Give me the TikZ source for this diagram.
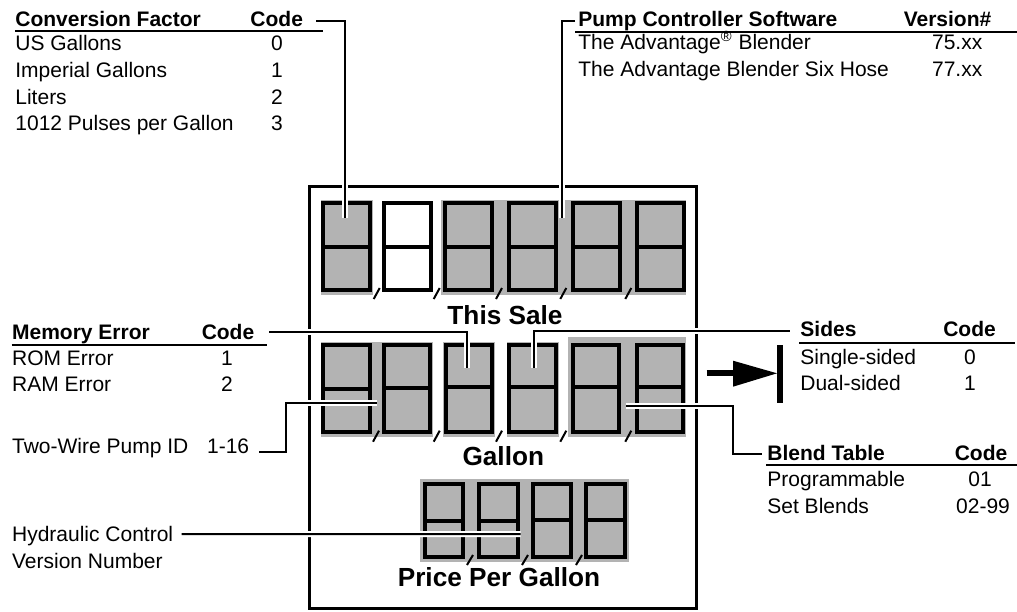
\documentclass[tikz,border=0pt]{standalone}
\usepackage{fontspec}
\setmainfont{Liberation Sans}
\usetikzlibrary{positioning}

\definecolor{lcdgray}{RGB}{179,179,179}

\begin{document}
\begin{tikzpicture}[x=0.5pt,y=-0.5pt,
    txt/.style={inner sep=0pt,anchor=base west,font=\fontsize{10.5}{12}\selectfont},
    hdr/.style={txt,font=\fontsize{10.5}{12}\selectfont\bfseries},
    num/.style={txt,anchor=base},
    ttl/.style={inner sep=0pt,anchor=base,font=\fontsize{13.1}{15}\selectfont\bfseries},
    rule/.style={line width=1pt},
    seg/.style={line width=2pt},
    lcd/.style={fill=lcdgray},
    lead/.style={line width=1pt,preaction={draw=white,line width=3pt}}]
    \useasboundingbox (0,0) rectangle (1017,611);

    % display panels
    \fill[lcd] (320.7,200) rectangle (372.7,295);
    \fill[lcd] (440.7,200) rectangle (686,295);
    \fill[lcd] (320.7,341.7) rectangle (432.7,436.7);
    \fill[lcd] (443.3,341.7) rectangle (495,436.7);
    \fill[lcd] (507.3,341.7) rectangle (559.3,436.7);
    \fill[lcd] (568.3,337.3) rectangle (686,436.7);
    \fill[lcd] (420,479) rectangle (629,561.7);

    % This Sale digits
    \foreach \x in {323.3,384,445.3,509.3,573.3,637.3}
        \draw[seg] (\x,202.7) rectangle ++(46.5,87.3) (\x,246.7) -- ++(46.5,0);
    \foreach \x in {376.7,436.7,499,563.3,628.3}
        \draw[rule] (\x-3,299) -- (\x+3,288);
    % Gallon digits
    \foreach \x/\b in {323.3/389.3,384/388.3,445.7/387.3,509.3/387.3,573/387.3,637/387.3}
        \draw[seg] (\x,345) rectangle ++(46.3,86.7) (\x,\b) -- ++(46.3,0);
    \foreach \x in {376,436.7,499,563.3,628.3}
        \draw[rule] (\x-3,441.7) -- (\x+3,430.7);
    % Price Per Gallon digits
    \foreach \x/\b in {424.5/521.3,479/521.3,532.5/519.5,586/519.5}
        \draw[seg] (\x,483.7) rectangle ++(38.7,73.3) (\x,\b) -- ++(38.7,0);
    \foreach \x in {470,525,579}
        \draw[rule] (\x-3,565) -- (\x+3,555);

    \draw[line width=1.5pt] (309.5,186) rectangle (696,608);

    \node[ttl] (sale) at (505,324) {This Sale};
    \node[ttl] (gal) at (503.3,465) {Gallon};
    \node[ttl] (ppg) at (499,586.7) {Price Per Gallon};

    % conversion factor table
    \node[hdr] (cf) at (15,26.7) {Conversion Factor};
    \node[hdr,anchor=base] (cfcode) at (276.7,26.7) {Code};
    \draw[rule] (15,31) -- (323,31);
    \foreach \name/\code [count=\i] in {US Gallons/0,Imperial Gallons/1,Liters/2,1012 Pulses per Gallon/3}{
        \node[txt] (cf\i) at (15,24+26.7*\i) {\name};
        \node[num] (cfc\i) at (277,24+26.7*\i) {\code};
    }

    % software table
    \node[hdr] (pcs) at (578,26) {Pump Controller Software};
    \node[hdr,anchor=base east] (pcsver) at (991.7,26) {Version\#};
    \draw[rule] (575,32.3) -- (1017,32.3);
    \node[txt] (pcs1) at (578,49.3) {The Advantage\textsuperscript{®} Blender};
    \node[txt] (pcsv1) at (931.7,49.3) {75.xx};
    \node[txt] (pcs2) at (578,76) {The Advantage Blender Six Hose};
    \node[txt] (pcsv2) at (931.7,76) {77.xx};

    % memory error table
    \node[hdr] (mem) at (11.7,339.3) {Memory Error};
    \node[hdr,anchor=base] (memcode) at (228,339.3) {Code};
    \draw[rule] (11.7,345) -- (266.7,345);
    \node[txt] (mem1) at (11.7,365) {ROM Error};
    \node[num] (memc1) at (227,365) {1};
    \node[txt] (mem2) at (11.7,391.7) {RAM Error};
    \node[num] (memc2) at (227,391.7) {2};

    \node[txt] (twid) at (11.7,453) {Two-Wire Pump ID};
    \node[txt] (twidcode) at (206.7,453) {1-16};

    \node[txt] (hyd) at (11.7,541.7) {Hydraulic Control};
    \node[txt] (hydver) at (11.7,568) {Version Number};

    % sides table
    \node[hdr] (sides) at (800,336.7) {Sides};
    \node[hdr,anchor=base] (sidescode) at (969.5,336.7) {Code};
    \draw[rule] (799,342.7) -- (1015,342.7);
    \node[txt] (sides1) at (800,364) {Single-sided};
    \node[num] (sidesc1) at (970,364) {0};
    \node[txt] (sides2) at (800,390) {Dual-sided};
    \node[num] (sidesc2) at (970,390) {1};

    % blend table
    \node[hdr] (bt) at (767,460) {Blend Table};
    \node[hdr,anchor=base] (btcode) at (981,460) {Code};
    \draw[rule] (766,465) -- (1017,465);
    \node[txt] (bt1) at (767,486.4) {Programmable};
    \node[num] (btc1) at (980,486.4) {01};
    \node[txt] (bt2) at (767,513) {Set Blends};
    \node[num] (btc2) at (983,513) {02-99};

    % arrow to the sides bar
    \draw[line width=3pt] (706.7,373.3) -- (735,373.3);
    \fill (733,360.7) -- (777,373.3) -- (733,386.7) -- cycle;
    \draw[line width=3pt] (780,345) -- (780,402.7);

    % leader lines
    \coordinate (cfend) at (344.5,218);
    \coordinate (pcsend) at (561.5,218);
    \coordinate (memend) at (466.7,368);
    \coordinate (sidesend) at (534.3,368);
    \coordinate (twend) at (377,403);
    \coordinate (btend) at (626,406);
    \coordinate (hydend) at (520.7,534);
    \draw[lead] ([xshift=6.5pt,yshift=3pt]cfcode.base east) -| (cfend);
    \draw[lead] ([xshift=-1.5pt,yshift=2.65pt]pcs.base west) -| (pcsend);
    \draw[lead] ([xshift=7.3pt,yshift=3.8pt]memcode.base east) -| (memend);
    \draw[lead] (sidesend) |- ([xshift=-5pt,yshift=3pt]sides.base west);
    \draw[lead] ([xshift=4.85pt,yshift=0.65pt]twidcode.base east) -- ++(27,0) |- (twend);
    \draw[lead] (btend) -- ++(107,0) |- ([xshift=-2.5pt,yshift=3pt]bt.base west);
    \draw[lead] ([xshift=4pt,yshift=3.85pt]hyd.base east) -- (hydend);
\end{tikzpicture}
\end{document}
